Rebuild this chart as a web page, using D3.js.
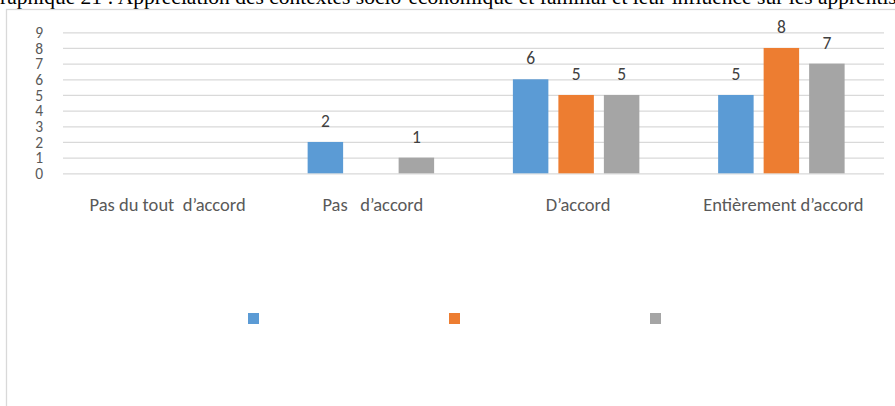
<!DOCTYPE html>
<html>
<head>
<meta charset="utf-8">
<script src="https://cdn.jsdelivr.net/npm/d3@7"></script>
<style>
  html, body { margin: 0; padding: 0; background: #fff; overflow: hidden; }
  svg { display: block; }
</style>
</head>
<body>
<svg id="chart" width="895" height="406"></svg>
<script>
// Survey answers per agreement level, three respondent groups
const categories = ["Pas du tout  d\u2019accord", "Pas   d\u2019accord", "D\u2019accord", "Enti\u00e8rement d\u2019accord"];
const seriesKeys = ["s1", "s2", "s3"];
const seriesNames = ["", "", ""];
const seriesColors = ["#5b9bd5", "#ed7d31", "#a5a5a5"];
const valuesS1 = [null, 2, 6, 5];
const valuesS2 = [null, null, 5, 8];
const valuesS3 = [null, 1, 5, 7];
const yTicks = [0, 1, 2, 3, 4, 5, 6, 7, 8, 9];
const titleText = "Graphique 21 : Appr\u00e9ciation des contextes socio-\u00e9conomique et familial et leur influence sur les apprentissages";

const seriesValues = [valuesS1, valuesS2, valuesS3];
const rows = categories.map((c, i) => ({
  cat: c,
  vals: seriesKeys.map((k, j) => ({ key: k, value: seriesValues[j][i] }))
}));

const svg = d3.select("#chart");
const FONT = "Carlito, Calibri, Lato, 'Open Sans', sans-serif";

// Caption above the chart frame
const title = svg.append("text")
  .attr("y", 4)
  .attr("font-family", "'Liberation Serif', 'Times New Roman', serif")
  .attr("font-size", 21.5)
  .attr("fill", "#000")
  .text(titleText);
const gWidth = title.node().getSubStringLength(0, 1);
title.attr("x", -gWidth);

// Chart frame
svg.append("rect")
  .attr("x", 6.5).attr("y", 9.5)
  .attr("width", 1000).attr("height", 500)
  .attr("fill", "none")
  .attr("stroke", "#d9d9d9")
  .attr("stroke-width", 1.3);

const plot = { left: 63, right: 884, top: 32.3, bottom: 173.3 };

const y = d3.scaleLinear().domain([0, 9]).range([plot.bottom, plot.top]);
const x = d3.scaleBand().domain(categories).range([plot.left, plot.right]).padding(0);
const groupW = x.bandwidth() * 0.665;
const xs = d3.scaleBand().domain(seriesKeys).range([0, groupW])
  .paddingInner(0.22).paddingOuter(0.11);
const color = d3.scaleOrdinal().domain(seriesKeys).range(seriesColors);

// Gridlines and value axis
const yAxis = d3.axisLeft(y).tickValues(yTicks).tickSize(-(plot.right - plot.left)).tickPadding(20);
const ga = svg.append("g")
  .attr("transform", `translate(${plot.left},0)`)
  .call(yAxis);
ga.select(".domain").remove();
ga.selectAll(".tick line").attr("stroke", "#d9d9d9").attr("stroke-width", 1.2);
ga.selectAll(".tick text")
  .attr("font-family", FONT)
  .attr("font-size", 15.5)
  .attr("fill", "#595959")
  .attr("x", -20)
  .attr("dy", "0.34em");

// Bars
const groups = svg.append("g").selectAll("g")
  .data(rows).join("g")
  .attr("transform", d => `translate(${x(d.cat) + (x.bandwidth() - groupW) / 2},0)`);

groups.selectAll("rect")
  .data(d => d.vals.filter(v => v.value != null))
  .join("rect")
  .attr("x", d => xs(d.key))
  .attr("width", xs.bandwidth())
  .attr("y", d => y(d.value))
  .attr("height", d => y(0) - y(d.value))
  .attr("fill", d => color(d.key));

// Value labels
groups.selectAll("text.val")
  .data(d => d.vals.filter(v => v.value != null))
  .join("text")
  .attr("class", "val")
  .attr("x", d => xs(d.key) + xs.bandwidth() / 2)
  .attr("y", d => y(d.value) - 15)
  .attr("text-anchor", "middle")
  .attr("font-family", FONT)
  .attr("font-size", 17.5)
  .attr("fill", "#404040")
  .text(d => d.value);

// Category labels
svg.append("g").selectAll("text")
  .data(categories).join("text")
  .attr("x", d => x(d) + x.bandwidth() / 2 + 2)
  .attr("y", 211)
  .attr("text-anchor", "middle")
  .attr("font-family", FONT)
  .attr("font-size", 18.5)
  .attr("fill", "#595959")
  .style("white-space", "pre")
  .text(d => d);

// Legend
const legX = d3.scalePoint().domain(seriesKeys).range([248, 650]);
const leg = svg.append("g").selectAll("g")
  .data(seriesKeys).join("g")
  .attr("transform", d => `translate(${legX(d)},313)`);
leg.append("rect").attr("width", 11).attr("height", 11).attr("fill", d => color(d));
leg.append("text").attr("x", 16).attr("y", 10)
  .attr("font-family", FONT).attr("font-size", 15).attr("fill", "#595959")
  .text((d, i) => seriesNames[i]);
</script>
</body>
</html>
